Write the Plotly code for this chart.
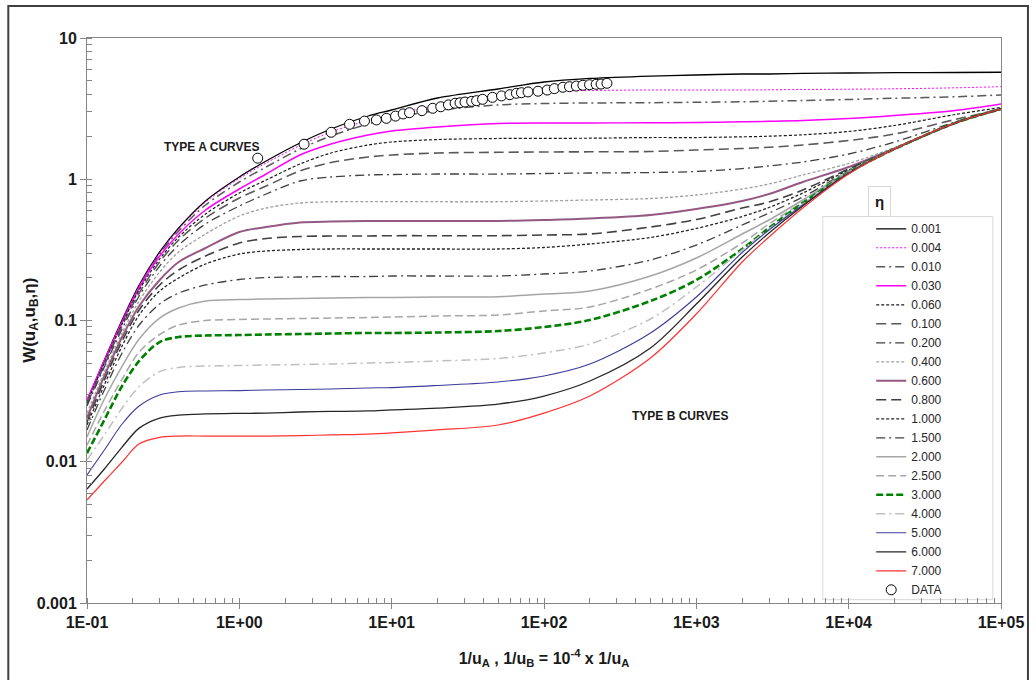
import plotly.graph_objects as go

# ---------------- data ----------------
x_grid = [0.1, 0.13, 0.17, 0.22, 0.3, 0.4, 0.6, 1, 1.5, 2.5, 4, 7, 10, 20, 50,
          100, 200, 500, 1000, 2000, 3000, 5000, 1e4, 2e4, 5e4, 1e5]

w_0_001 = [0.0269, 0.0525, 0.1008, 0.1784, 0.3055, 0.4517, 0.7015, 1.037, 1.346, 1.806, 2.269, 2.804, 3.092,
           3.760, 4.355, 4.88, 5.17, 5.38, 5.47, 5.56, 5.56, 5.61, 5.65, 5.68, 5.70, 5.72]
w_0_004 = [0.0267, 0.0517, 0.0992, 0.1755, 0.3005, 0.4444, 0.690, 1.012, 1.303, 1.734, 2.160, 2.606, 2.850,
           3.356, 3.950, 4.180, 4.249, 4.284, 4.284, 4.284, 4.298, 4.319, 4.340, 4.368, 4.440, 4.521]
w_0_010 = [0.0265, 0.0508, 0.0976, 0.1726, 0.2957, 0.4301, 0.6571, 0.956, 1.221, 1.637, 2.024, 2.461, 2.714,
           3.067, 3.356, 3.439, 3.467, 3.484, 3.507, 3.535, 3.565, 3.611, 3.670, 3.743, 3.835, 3.950]
w_0_030 = [0.0274, 0.0521, 0.0976, 0.1698, 0.2862, 0.4097, 0.6058, 0.8531, 1.089, 1.485, 1.776, 2.057, 2.196,
           2.344, 2.481, 2.501, 2.501, 2.514, 2.522, 2.551, 2.572, 2.606, 2.692, 2.827, 3.067, 3.410]
w_0_060 = [0.0261, 0.0500, 0.0945, 0.1644, 0.2725, 0.3902, 0.5675, 0.7992, 0.9879, 1.282, 1.534, 1.748, 1.835,
           1.911, 1.943, 1.949, 1.952, 1.974, 1.974, 1.997, 2.017, 2.064, 2.178, 2.402, 2.873, 3.221]
w_0_100 = [0.0256, 0.0484, 0.0914, 0.1565, 0.2596, 0.3715, 0.5317, 0.7366, 0.8959, 1.144, 1.314, 1.437, 1.485,
           1.534, 1.552, 1.559, 1.564, 1.572, 1.611, 1.651, 1.684, 1.748, 1.881, 2.091, 2.649, 3.143]
w_0_200 = [0.0248, 0.0469, 0.0871, 0.1491, 0.2430, 0.3423, 0.4822, 0.6466, 0.7862, 0.9719, 1.037, 1.072, 1.080,
           1.089, 1.089, 1.098, 1.107, 1.116, 1.135, 1.191, 1.241, 1.325, 1.509, 1.835, 2.543, 3.143]
w_0_400 = [0.0221, 0.0432, 0.0816, 0.1374, 0.2205, 0.3055, 0.4097, 0.5492, 0.6258, 0.6789, 0.6923, 0.6934, 0.6934,
           0.6934, 0.6934, 0.7015, 0.7130, 0.7307, 0.7738, 0.8531, 0.9255, 1.072, 1.293, 1.678, 2.501, 3.143]
w_0_600 = [0.0204, 0.0405, 0.0764, 0.1267, 0.1935, 0.2596, 0.3261, 0.4232, 0.4590, 0.4941, 0.5022, 0.5063, 0.5063,
           0.5063, 0.5063, 0.5146, 0.5274, 0.5584, 0.6160, 0.7015, 0.7862, 0.956, 1.221, 1.651, 2.501, 3.143]
w_0_800 = [0.0191, 0.0379, 0.0716, 0.1187, 0.1784, 0.2278, 0.2862, 0.3537, 0.3805, 0.3932, 0.3964, 0.3964, 0.3984,
           0.3984, 0.3984, 0.4030, 0.4097, 0.4590, 0.5188, 0.6258, 0.690, 0.8394, 1.182, 1.637, 2.501, 3.143]
w_1_000 = [0.0182, 0.0350, 0.0660, 0.1094, 0.1618, 0.1999, 0.2512, 0.2957, 0.3105, 0.3182, 0.3208, 0.3208, 0.3208,
           0.3208, 0.3208, 0.3288, 0.3480, 0.3870, 0.4481, 0.5449, 0.6310, 0.7992, 1.163, 1.637, 2.501, 3.143]
w_1_500 = [0.0168, 0.0322, 0.0589, 0.0929, 0.1308, 0.1565, 0.1784, 0.1951, 0.2015, 0.2032, 0.2048, 0.2048, 0.2065,
           0.2065, 0.2065, 0.2134, 0.2241, 0.2682, 0.3423, 0.4744, 0.5768, 0.7486, 1.144, 1.637, 2.501, 3.143]
w_2_000 = [0.0150, 0.0278, 0.0476, 0.0740, 0.1041, 0.1226, 0.1374, 0.1408, 0.1420, 0.1431, 0.1443, 0.1455, 0.1455,
           0.1467, 0.1474, 0.1540, 0.1618, 0.2065, 0.2770, 0.4097, 0.5146, 0.7130, 1.135, 1.637, 2.501, 3.143]
w_2_500 = [0.0131, 0.0229, 0.0385, 0.0598, 0.0796, 0.0929, 0.1000, 0.1016, 0.1025, 0.1033, 0.1041, 0.1050, 0.1059,
           0.1076, 0.1094, 0.1168, 0.1246, 0.1671, 0.2278, 0.3537, 0.4822, 0.690, 1.126, 1.637, 2.501, 3.143]
w_3_000 = [0.0115, 0.0198, 0.0344, 0.0517, 0.0704, 0.0764, 0.0783, 0.0789, 0.0796, 0.0802, 0.0809, 0.0816, 0.0816,
           0.0822, 0.0842, 0.0899, 0.1008, 0.1374, 0.1935, 0.3208, 0.4517, 0.6789, 1.116, 1.637, 2.501, 3.143]
w_4_000 = [0.0103, 0.0155, 0.0240, 0.0341, 0.0435, 0.0465, 0.0476, 0.0480, 0.0484, 0.0488, 0.0492, 0.0500, 0.0504,
           0.0517, 0.0538, 0.0589, 0.0682, 0.1025, 0.1726, 0.3155, 0.4444, 0.6680, 1.107, 1.637, 2.501, 3.143]
w_5_000 = [0.00806, 0.0121, 0.0185, 0.0248, 0.0297, 0.0313, 0.0317, 0.0319, 0.0322, 0.0325, 0.0327, 0.0333, 0.0335,
           0.0347, 0.0367, 0.0405, 0.0492, 0.0816, 0.1467, 0.3030, 0.4372, 0.6571, 1.107, 1.637, 2.501, 3.143]
w_6_000 = [0.00641, 0.00889, 0.0127, 0.0173, 0.0204, 0.0214, 0.0218, 0.0220, 0.0221, 0.0225, 0.0227, 0.0229, 0.0233,
           0.0240, 0.0256, 0.0292, 0.0373, 0.0639, 0.1308, 0.2815, 0.4164, 0.6466, 1.098, 1.637, 2.501, 3.143]
w_7_000 = [0.00536, 0.00731, 0.00996, 0.0134, 0.0149, 0.0152, 0.0152, 0.0152, 0.0152, 0.0153, 0.0155, 0.0157, 0.0160,
           0.0168, 0.0182, 0.0221, 0.0292, 0.0543, 0.1112, 0.2596, 0.3902, 0.6258, 1.089, 1.637, 2.501, 3.143]

data_x = [1.32, 2.66, 4.01, 5.29, 6.63, 7.94, 9.23, 10.6, 11.9, 13.1, 15.8, 18.6, 21.0, 23.6, 26.1, 28.1, 30.3,
          33.5, 36.1, 39.5, 45.9, 52.6, 59.7, 65.9, 71.1, 78.6, 91.4, 105, 117, 133, 147, 163, 180, 199, 220, 237, 259]
data_y = [1.41, 1.77, 2.15, 2.45, 2.58, 2.63, 2.70, 2.80, 2.90, 2.96, 3.06, 3.18, 3.26, 3.36, 3.45, 3.48, 3.52,
          3.56, 3.60, 3.68, 3.80, 3.89, 3.97, 4.06, 4.10, 4.15, 4.20, 4.28, 4.38, 4.48, 4.52, 4.57, 4.63, 4.67, 4.70,
          4.72, 4.78]

eta_labels = ["0.001", "0.004", "0.010", "0.030", "0.060", "0.100", "0.200", "0.400", "0.600",
              "0.800", "1.000", "1.500", "2.000", "2.500", "3.000", "4.000", "5.000", "6.000", "7.000"]

x_tick_vals = [0.1, 1, 10, 100, 1000, 10000, 100000]
x_tick_text = ["1E-01", "1E+00", "1E+01", "1E+02", "1E+03", "1E+04", "1E+05"]
y_tick_vals = [0.001, 0.01, 0.1, 1, 10]
y_tick_text = ["0.001", "0.01", "0.1", "1", "10"]

# ---------------- styles ----------------
FAM = "Liberation Sans, Arial, sans-serif"
DD = "9px,4px,2px,4px"
styles = [
    (w_0_001, "#000000", "solid", 1.3),
    (w_0_004, "#ff00ff", "2px,2px", 1.0),
    (w_0_010, "#595959", DD, 1.5),
    (w_0_030, "#ff00ff", "solid", 1.5),
    (w_0_060, "#1a1a1a", "3px,2px", 1.2),
    (w_0_100, "#595959", "10px,5px", 1.6),
    (w_0_200, "#404040", DD, 1.3),
    (w_0_400, "#a0a0a0", "3px,2px", 1.3),
    (w_0_600, "#955883", "solid", 2.0),
    (w_0_800, "#404040", "10px,5px", 1.6),
    (w_1_000, "#262626", "3px,2px", 1.3),
    (w_1_500, "#404040", DD, 1.3),
    (w_2_000, "#a6a6a6", "solid", 1.5),
    (w_2_500, "#a6a6a6", "8px,4px", 1.5),
    (w_3_000, "#008000", "7px,3px", 2.6),
    (w_4_000, "#bfbfbf", DD, 1.5),
    (w_5_000, "#3c3c9c", "solid", 1.1),
    (w_6_000, "#262626", "solid", 1.3),
    (w_7_000, "#ff3333", "solid", 1.2),
]

fig = go.Figure()
for label, (ys, color, dash, width) in zip(eta_labels, styles):
    fig.add_trace(go.Scatter(
        x=x_grid, y=ys, mode="lines", name=label,
        line=dict(color=color, dash=dash, width=width, shape="spline", smoothing=0.9),
    ))

fig.add_trace(go.Scatter(
    x=data_x, y=data_y, mode="markers", name="DATA",
    marker=dict(symbol="circle", size=10, color="white", line=dict(color="#000000", width=1)),
))

AX = "#868686"
TICKFONT = dict(family=FAM, size=16, color="#1a1a1a", weight="bold")

fig.update_xaxes(
    type="log", range=[-1, 5], tickvals=x_tick_vals, ticktext=x_tick_text,
    ticks="outside", ticklen=5, tickcolor=AX, showline=True, linecolor=AX, linewidth=1, mirror=True,
    showgrid=False, zeroline=False, tickfont=TICKFONT,
    minor=dict(dtick="D1", ticks="inside", ticklen=5, tickcolor=AX, showgrid=False),
    title=dict(text="1/u<sub>A</sub> , 1/u<sub>B</sub> = 10<sup>-4</sup> x 1/u<sub>A</sub>",
               font=dict(family=FAM, size=16, color="#1a1a1a", weight="bold"),
               standoff=22),
)
fig.update_yaxes(
    type="log", range=[-3, 1], tickvals=y_tick_vals, ticktext=y_tick_text,
    ticks="outside", ticklen=6, tickcolor=AX, showline=True, linecolor=AX, linewidth=1, mirror=True,
    showgrid=False, zeroline=False, tickfont=TICKFONT,
    minor=dict(dtick="D1", ticks="inside", ticklen=5, tickcolor=AX, showgrid=False),
)

fig.update_layout(
    width=1036, height=680,
    margin=dict(l=87, r=31, t=38, b=77),
    plot_bgcolor="white", paper_bgcolor="white",
    font=dict(family=FAM, color="#1a1a1a"),
    legend=dict(x=0.858, y=0.688, xanchor="left", yanchor="top",
                bgcolor="rgba(0,0,0,0)", borderwidth=0, tracegroupgap=0,
                font=dict(family=FAM, size=12, color="#262626")),
    shapes=[
        # legend frame
        dict(type="rect", xref="paper", yref="paper", x0=0.805, x1=0.991, y0=0.006, y1=0.684,
             line=dict(color="#d9d9d9", width=1), fillcolor="white", layer="below"),
        # outer chart border
        dict(type="rect", xref="paper", yref="paper", x0=-0.0861, x1=1.0295, y0=-0.16, y1=1.0566,
             line=dict(color="#404040", width=2), fillcolor="rgba(0,0,0,0)", layer="above"),
    ],
    annotations=[
        # y axis title
        dict(text="W(u<sub>A</sub>,u<sub>B</sub>,η)", xref="paper", yref="paper", x=-0.062, y=0.5,
             xanchor="center", yanchor="middle", textangle=-90, showarrow=False,
             font=dict(family=FAM, size=17, color="#1a1a1a", weight="bold")),
        dict(text="TYPE A CURVES", xref="paper", yref="paper", x=0.137, y=0.807,
             xanchor="center", yanchor="middle", showarrow=False,
             font=dict(family=FAM, size=12, color="#1a1a1a", weight="bold")),
        dict(text="TYPE B CURVES", xref="paper", yref="paper", x=0.649, y=0.331,
             xanchor="center", yanchor="middle", showarrow=False,
             font=dict(family=FAM, size=12, color="#1a1a1a", weight="bold")),
        dict(text="η", xref="paper", yref="paper", x=0.867, y=0.7115,
             xanchor="center", yanchor="middle", showarrow=False,
             bordercolor="#d9d9d9", borderwidth=1, borderpad=6, bgcolor="white",
             font=dict(family=FAM, size=15, color="#1a1a1a", weight="bold")),
    ],
)

fig.write_html("out.html", config={"displayModeBar": False},
               post_script="document.body.style.margin='0';document.body.style.overflow='hidden';")
